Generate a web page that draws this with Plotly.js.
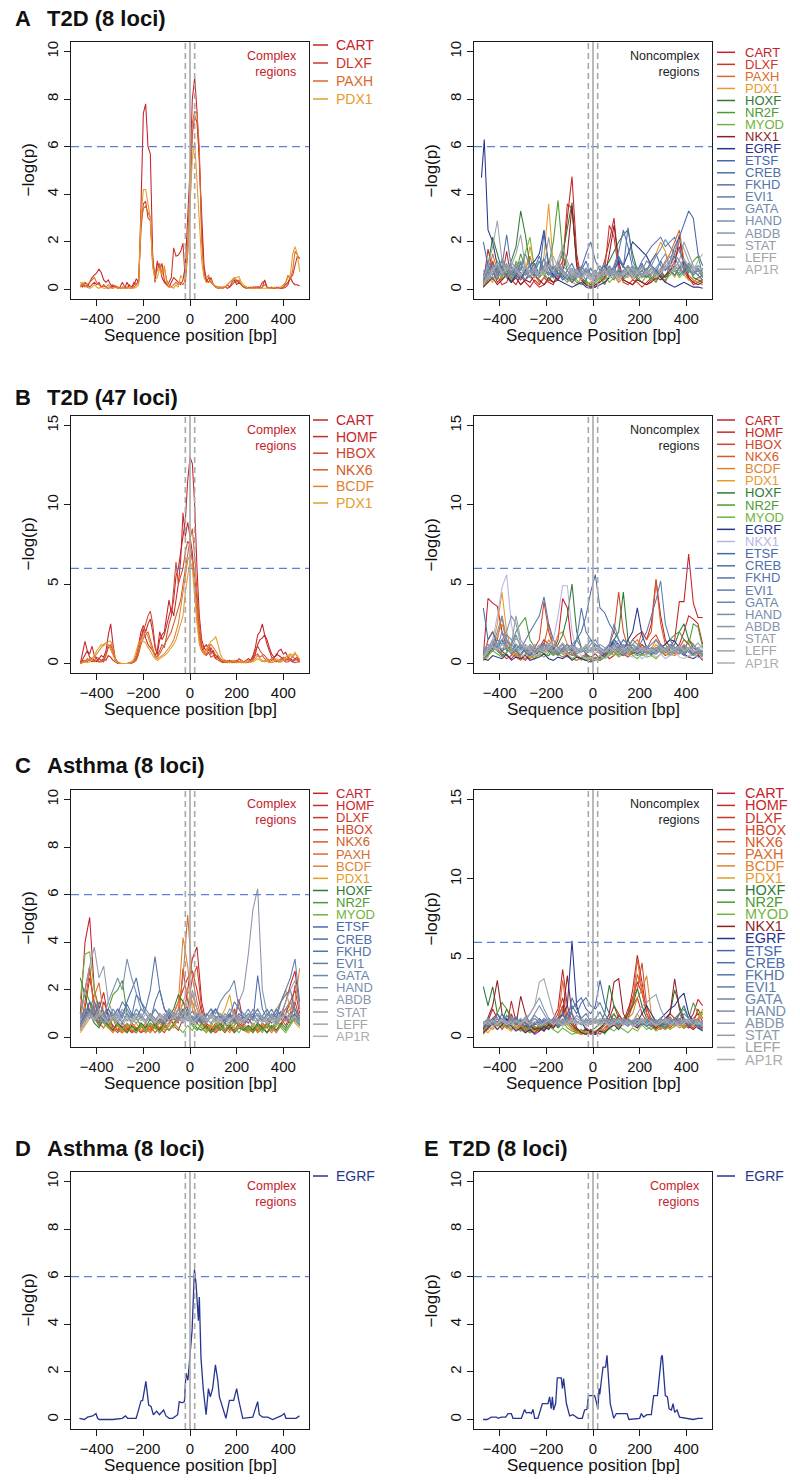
<!DOCTYPE html>
<html>
<head>
<meta charset="utf-8">
<script src="https://cdn.plot.ly/plotly-3.0.1.min.js"></script>
<style>html,body{margin:0;padding:0;background:#fff;}#chart{width:800px;height:1483px;}</style>
</head>
<body>
<div id="chart"></div>
<script>
// ---------------- x positions (bp) ----------------
const X10 = [-470,-460,-450,-440,-430,-420,-410,-400,-390,-380,
-370,-360,-350,-340,-330,-320,-310,-300,-290,-280,
-270,-260,-250,-240,-230,-220,-210,-200,-190,-180,
-170,-160,-150,-140,-130,-120,-110,-100,-90,-80,
-70,-60,-50,-40,-30,-20,-10,0,10,20,
30,40,50,60,70,80,90,100,110,120,
130,140,150,160,170,180,190,200,210,220,
230,240,250,260,270,280,290,300,310,320,
330,340,350,360,370,380,390,400,410,420,
430,440,450,460,470];
const X20 = [-470,-450,-430,-410,-390,-370,-350,-330,-310,-290,-270,-250,
-230,-210,-190,-170,-150,-130,-110,-90,-70,-50,-30,-10,
10,30,50,70,90,110,130,150,170,190,210,230,
250,270,290,310,330,350,370,390,410,430,450,470];
// EGRF in panel A (noncomplex) starts a little earlier than the grid
const X20_A2EGRF = [-478,-466,-450,-430,-410,-390,-370,-350,-330,-310,-290,-270,-250,
-230,-210,-190,-170,-150,-130,-110,-90,-70,-50,-30,-10,
10,30,50,70,90,110,130,150,170,190,210,230,
250,270,290,310,330,350,370,390,410,430,450,470];

// ---------------- Panel A, complex (T2D 8 loci) ----------------
const A1_NAMES = ['CART','DLXF','PAXH','PDX1'];
const A1_CART = [0.1,0.2,0.15,0.1,0.3,0.5,0.6,0.7,0.85,0.7,
0.4,0.3,0.4,0.2,0.1,0.15,0.1,0.05,0.1,0.05,
0.3,0.1,0.05,0.2,0.45,0.3,3.5,7.4,7.8,6.0,
5.7,1.5,0.3,1.1,1.0,0.5,0.3,0.2,0.1,0.3,
0.5,0.4,0.3,0.2,0.4,1.0,3.0,5.0,8.0,8.9,
7.5,5.5,3.0,1.0,0.4,0.3,0.5,0.2,0.1,0.1,
0.05,0.1,0.1,0.2,0.1,0.2,0.3,0.4,0.3,0.2,
0.1,0.1,0.05,0.1,0.05,0.1,0.1,0.05,0.1,0.4,
0.1,0.05,0.05,0.05,0.1,0.05,0.05,0.1,0.2,0.3,
0.5,0.3,0.2,0.2,0.15];
const A1_DLXF = [0.2,0.1,0.3,0.2,0.1,0.2,0.3,0.2,0.3,0.1,
0.2,0.1,0.05,0.1,0.2,0.1,0.05,0.1,0.3,0.1,
0.05,0.2,0.1,0.3,0.2,0.4,2.5,3.6,3.7,3.0,
2.9,1.0,0.5,1.2,0.8,1.1,0.4,0.2,0.3,0.5,
1.75,1.4,1.45,1.6,1.95,0.3,1.5,3.5,6.5,7.3,
7.0,5.6,2.5,0.8,0.3,0.5,0.3,0.2,0.1,0.05,
0.1,0.05,0.1,0.05,0.1,0.3,0.4,0.2,0.3,0.2,
0.1,0.05,0.1,0.05,0.1,0.05,0.1,0.1,0.3,0.35,
0.1,0.05,0.1,0.05,0.05,0.1,0.05,0.05,0.1,0.2,
0.5,0.6,1.0,1.4,1.3];
const A1_PAXH = [0.3,0.2,0.1,0.2,0.3,0.4,0.5,0.3,0.2,0.1,
0.15,0.1,0.2,0.1,0.05,0.1,0.1,0.05,0.05,0.1,
0.1,0.05,0.1,0.1,0.2,0.3,2.8,3.4,3.5,3.2,
3.0,1.2,0.6,0.8,1.1,0.7,0.9,0.4,0.2,0.1,
0.2,0.3,0.2,0.3,0.2,0.4,2.0,4.5,7.0,7.5,
7.4,6.0,2.0,0.6,0.5,0.6,0.3,0.2,0.15,0.1,
0.1,0.05,0.1,0.2,0.3,0.4,0.5,0.3,0.4,0.2,
0.1,0.1,0.05,0.05,0.1,0.1,0.05,0.05,0.1,0.2,
0.1,0.05,0.05,0.05,0.05,0.05,0.1,0.1,0.3,0.6,
0.4,0.8,1.6,1.45,1.3];
const A1_PDX1 = [0.1,0.3,0.2,0.1,0.05,0.1,0.2,0.1,0.05,0.1,
0.05,0.05,0.1,0.05,0.05,0.1,0.05,0.05,0.1,0.05,
0.05,0.1,0.05,0.05,0.1,0.2,3.0,4.2,4.2,3.5,
3.0,1.0,0.4,0.5,0.9,0.6,1.0,0.3,0.1,0.1,
0.05,0.2,0.1,0.6,0.4,0.5,1.5,3.5,5.5,6.2,
4.5,2.5,1.2,0.5,0.3,0.3,0.4,0.2,0.1,0.1,
0.05,0.05,0.1,0.2,0.3,0.35,0.45,0.5,0.55,0.3,
0.2,0.1,0.05,0.05,0.05,0.05,0.05,0.05,0.05,0.05,
0.05,0.05,0.05,0.1,0.05,0.05,0.1,0.2,0.3,0.5,
0.6,1.5,1.8,1.5,0.75];

// ---------------- Panel A, noncomplex ----------------
const A2_NAMES = ['CART','DLXF','PAXH','PDX1','HOXF','NR2F','MYOD','NKX1','EGRF','ETSF','CREB','FKHD','EVI1','GATA','HAND','ABDB','STAT','LEFF','AP1R'];
const A2_CART = [.2,1.7,.8,.3,.5,1.6,.4,.2,.6,.3,.1,.4, .2,.5,.3,.2,.8,1.2,3.0,4.75,1.5,.4,.2,.1, .3,.6,1.2,2.0,3.0,1.0,.4,.3,.2,.5,.3,.2, .4,.6,.8,.5,1.0,1.5,2.3,.8,.4,.3,.5,.6];
const A2_DLXF = [.1,.4,1.2,.6,.2,.3,.8,.5,.2,.4,.6,.3, .1,.2,.4,.3,.5,1.0,3.6,3.4,1.2,.5,.3,.2, .1,.4,.8,2.7,2.2,.8,.3,.2,.4,.3,.1,.3, .5,.4,.6,.3,.8,1.2,1.8,1.0,.5,.2,.3,.4];
const A2_PAXH = [.3,.6,1.5,.8,.4,.7,.3,1.0,.5,.8,1.4,.6, .3,.5,1.2,.6,.4,.7,.5,.3,.6,.4,.2,.3, .5,.7,.4,.9,.6,.3,.5,.8,.4,.6,1.0,.7, .5,.4,.8,1.2,1.5,2.0,2.5,1.2,.6,.4,.3,.2];
const A2_PDX1 = [.2,.5,.3,.9,.6,1.0,.4,.8,1.2,.7,1.8,.9, .6,1.4,3.6,1.0,.5,.8,.4,.3,.2,.5,.3,.2, .4,.6,.3,.5,.8,.4,.6,.5,.7,.9,.6,.8, 1.2,1.5,2.0,1.6,.8,.5,1.0,.6,.4,.3,.5,.4];
const A2_HOXF = [.4,1.0,2.2,1.5,.8,.6,1.2,1.8,3.3,2.3,1.0,.5, .8,.6,.4,.7,1.0,1.5,2.5,3.65,1.0,.5,.3,.2, .4,.6,.9,1.2,1.6,2.0,2.3,2.5,1.5,.8,.5,.6, .4,.8,.6,.5,.7,.9,.6,.8,1.0,.5,.4,.3];
const A2_NR2F = [.1,.5,.8,.4,1.0,.6,.3,.7,1.5,.9,.5,.8, 1.2,.6,1.0,2.0,3.75,1.5,.8,.5,.3,.2,.4,.1, .3,.5,.2,.6,.4,.8,.5,1.0,.7,.4,.6,.9, .5,.3,.7,.5,.8,.6,.9,1.0,.7,1.2,1.4,.6];
const A2_MYOD = [.2,.3,.6,1.0,.5,.8,.4,1.2,.9,1.5,2.2,.8, .5,.7,.4,.6,.9,.5,.3,.6,.4,.2,.3,.1, .2,.4,.6,.3,.5,.7,.4,.6,.8,.5,.3,.6, .4,.7,.5,.4,.6,.8,.5,.7,.9,.6,.8,.5];
const A2_NKX1 = [.1,.3,.5,.2,.4,.6,.3,.5,.2,.4,.3,.6, .4,.2,.5,.3,.4,.8,1.5,3.5,1.0,.4,.2,.1, .2,.3,.5,1.5,2.7,1.2,.4,.3,.2,.4,.3,.2, .3,.5,.4,.6,.8,1.0,2.2,1.0,.5,.3,.2,.3];
const A2_EGRF = [4.7,6.3,2.5,2.0,1.0,.8,.5,.3,.6,.4,.8,1.0,1.2, 1.5,2.5,1.0,.6,.4,.3,.2,.1,.2,.3,.1,.05, .1,.2,.3,.5,.8,1.2,1.0,1.5,2.0,1.8,1.6,1.4, 1.0,.8,.5,.3,.2,.1,.2,.3,.2,.1,.1,.05];
const A2_ETSF = [2.0,1.0,.6,.9,1.2,.8,.5,1.0,.7,.4,.8,1.1, .6,2.4,.9,.5,.7,.4,.6,.3,.5,.8,1.2,.6, .4,.8,1.0,.6,.9,1.4,1.0,.7,.5,.9,.6,.8, 1.2,1.5,1.0,.8,1.2,1.8,2.2,2.8,3.3,3.0,1.5,1.0];
const A2_CREB = [.6,1.2,.8,.5,1.0,2.3,.9,.6,1.1,.7,.5,.9, 1.4,.8,.6,1.0,.7,.5,.8,1.1,.6,.9,1.5,2.0, 1.2,.8,.6,1.0,.7,1.3,.9,2.6,1.2,.8,1.1,.6, .9,.7,1.2,.8,1.0,1.4,.9,.7,1.1,.8,.6,.4];
const A2_FKHD = [.3,.8,1.1,.6,.9,.5,1.2,.8,.4,.7,1.0,.6, .8,1.3,.7,.5,.9,.6,.4,.8,.5,.7,.4,.9, .6,.5,.8,.6,1.0,1.6,2.5,1.8,.9,.6,.8,.5, .7,.9,.6,1.0,.8,.6,.9,1.2,.8,.6,.9,.5];
const A2_EVI1 = [.5,.7,.4,.8,.6,1.0,.7,.5,.9,.6,.8,.5, .7,1.0,.6,.9,.5,.8,.6,.4,.7,.5,.9,.6, .8,.5,.7,.9,.6,.8,.5,.7,1.0,.8,1.2,1.5, 1.8,2.0,2.2,1.8,2.0,2.2,1.6,1.2,.9,.7,.8,.6];
const A2_GATA = [.8,.5,1.0,.7,1.3,.9,.6,1.1,.8,1.5,.9,.7, 1.2,.8,.6,.9,1.1,.7,.5,.8,.6,1.0,.7,.9, .5,.8,1.1,.7,.9,.6,.8,1.0,.7,.5,.8,1.2, 1.0,1.4,1.7,2.1,1.8,1.5,1.2,.9,1.1,.8,.6,.9];
const A2_HAND = [.4,.9,.6,1.2,.8,.5,1.0,.7,.9,.6,1.1,.8, .5,.9,1.3,.7,.6,1.0,.8,.5,.9,.6,.8,.5, .7,1.0,.6,.8,.5,.9,.7,.6,.9,.7,1.0,.8, .6,.9,1.2,1.5,1.0,.8,.7,1.0,.8,.6,.9,.7];
const A2_ABDB = [.6,.4,.8,1.0,.6,.9,.5,.8,1.2,.7,.5,.9, .6,.8,1.0,.7,1.2,.8,.6,.9,.5,.7,.9,.6, .8,.5,.7,.6,.9,.5,.8,.6,.7,.9,.6,.8, 1.0,.7,.9,1.1,1.4,1.0,.8,.6,.9,.7,1.0,.8];
const A2_STAT = [.3,.6,.9,.5,.8,1.1,.7,1.0,.6,.9,.5,.8, .6,.9,2.2,1.0,.8,1.8,1.2,.7,.5,.8,.6,.4, .7,.5,.9,.6,.8,.5,.7,.9,.6,.8,.5,.7, .9,.6,.8,1.0,.7,.9,1.2,2.0,1.5,1.0,.8,.6];
const A2_LEFF = [.5,1.0,1.8,2.9,1.2,.8,1.0,1.5,2.3,1.0,.7,.9, .6,.8,1.0,.7,1.3,1.8,1.0,.6,.8,.5,.7,.6, .4,.8,.6,.9,.5,.7,.6,.8,1.0,.7,.5,.8, .6,.9,.7,1.0,1.2,1.6,2.1,1.7,1.2,.9,1.0,.8];
const A2_AP1R = [.2,.5,.8,1.1,.7,.9,1.2,.8,.6,1.0,.7,.5, .8,.6,1.0,1.4,.9,.7,.5,.8,.6,.4,.7,.5, .3,.6,.8,.5,.7,.4,.6,.8,.5,.7,.9,.6, .8,.5,.7,.9,1.1,.8,1.0,1.3,1.0,.8,1.2,1.5];

// ---------------- Panel B, complex (T2D 47 loci) ----------------
const B1_NAMES = ['CART','HOMF','HBOX','NKX6','BCDF','PDX1'];
const B1_CART = [0,0.3,0.5,0.8,0.4,0.3,0.2,0.1,0.3,0.5,
0.4,0.8,1.8,2.5,1.2,0.3,0.1,0,0,0,
0,0.05,0.1,0.2,0.5,1.2,2.0,2.4,2.0,2.5,
2.8,2.0,1.0,0.6,1.5,1.8,2.0,3.0,4.0,3.2,
4.0,5.5,6.0,7.0,8.0,9.0,11.5,13.0,12.6,10.0,
6.0,3.0,1.5,1.0,1.2,0.8,1.0,0.6,0.3,0.5,
0.3,0.2,0.1,0.1,0.2,0.1,0.05,0.1,0.3,0.2,
0.1,0.2,0.3,0.2,0.5,1.0,1.8,2.0,2.5,1.8,
1.5,1.0,0.6,0.4,0.5,0.8,0.9,0.6,0.7,0.4,
0.3,0.2,0.3,0.4,0.2];
const B1_HOMF = [0,0.8,1.4,0.8,0.6,1.1,0.5,0.3,0.1,0.2,
0.3,0.2,0.5,0.4,0.2,0.1,0,0,0,0,
0,0,0.05,0.1,0.4,1.0,1.5,2.2,1.6,1.2,
1.0,0.8,0.5,0.8,2.0,1.5,1.8,2.5,3.0,3.5,
3.0,4.0,5.0,6.5,9.5,8.0,8.9,8.0,7.0,5.0,
3.0,1.5,0.8,1.0,0.8,1.2,0.7,0.8,0.5,0.4,
0.2,0.1,0.2,0.1,0.05,0.1,0.2,0.1,0.1,0.05,
0.1,0.05,0.1,0.2,0.3,0.6,1.2,1.5,1.6,1.8,
1.2,0.8,0.4,0.3,0.6,0.5,0.4,0.3,0.2,0.3,
0.2,0.1,0.2,0.3,0.1];
const B1_HBOX = [0,0.2,0.1,0.3,0.2,0.1,0.2,0.4,0.3,0.2,
0.1,0.5,1.0,1.2,0.8,0.2,0.1,0,0,0,
0,0,0.05,0.1,0.3,0.8,1.5,2.0,2.6,3.0,
3.3,2.5,1.2,0.5,0.8,1.2,1.0,1.8,2.5,3.0,
5.0,6.4,5.0,5.5,6.0,7.0,7.7,7.5,6.5,5.5,
4.0,2.0,1.0,0.6,0.5,0.7,0.4,0.5,0.3,0.2,
0.1,0.05,0.1,0.05,0.1,0.05,0.1,0.2,0.1,0.1,
0.05,0.1,0.1,0.2,0.4,0.8,1.1,0.8,0.6,0.5,
0.3,0.2,0.3,0.2,0.1,0.2,0.3,0.2,0.1,0.1,
0.2,0.1,0.05,0.1,0.1];
const B1_NKX6 = [0,0.1,0.2,0.1,0.3,0.2,0.1,0.2,0.1,0.1,
0.2,0.6,1.2,1.0,0.6,0.2,0.05,0,0,0,
0,0,0,0.1,0.2,0.6,1.2,1.6,1.8,2.0,
1.5,1.0,0.5,0.4,0.6,0.9,1.2,1.5,1.8,2.0,
2.5,3.0,3.5,4.0,5.0,6.0,7.0,7.8,8.5,6.8,
4.5,2.5,1.2,0.8,0.6,0.9,0.6,0.7,0.5,0.3,
0.2,0.1,0.1,0.2,0.1,0.05,0.1,0.05,0.1,0.2,
0.1,0.05,0.1,0.1,0.2,0.5,0.6,0.4,0.5,0.3,
0.2,0.1,0.2,0.3,0.2,0.1,0.2,0.4,0.3,0.2,
0.3,0.4,0.3,0.2,0.1];
const B1_BCDF = [0,0.05,0.1,0.2,0.3,0.2,0.4,0.6,0.8,1.0,
1.2,1.3,1.4,1.4,1.0,0.3,0.05,0,0,0,
0,0,0.1,0.2,0.5,1.0,1.5,1.8,2.0,1.7,
1.2,0.8,0.4,0.3,0.4,0.5,0.6,0.8,1.0,1.2,
1.5,2.0,2.5,3.5,4.5,5.5,6.5,6.8,6.5,5.0,
3.0,1.5,0.8,0.6,0.8,1.0,1.2,1.0,0.8,0.5,
0.3,0.2,0.1,0.05,0.1,0.2,0.1,0.05,0.1,0.2,
0.1,0.05,0.1,0.1,0.2,0.3,0.5,0.3,0.2,0.1,
0.2,0.1,0.05,0.1,0.2,0.1,0.1,0.2,0.3,0.4,
0.5,0.4,0.6,0.5,0.2];
const B1_PDX1 = [0,0.05,0.1,0.05,0.1,0.3,0.5,0.8,1.0,1.2,
1.1,1.3,1.2,0.9,0.6,0.2,0.05,0,0,0,
0,0,0.05,0.3,0.8,1.3,1.5,1.4,1.3,1.0,
0.8,0.5,0.3,0.2,0.3,0.4,0.5,0.6,0.8,1.0,
1.2,1.5,2.0,2.5,3.0,4.5,5.5,6.5,6.0,4.0,
2.5,1.2,0.8,0.6,0.9,1.2,1.4,1.5,1.7,1.2,
0.6,0.3,0.2,0.1,0.05,0.1,0.2,0.1,0.05,0.1,
0.05,0.1,0.2,0.1,0.1,0.2,0.3,0.2,0.1,0.2,
0.1,0.05,0.1,0.2,0.3,0.2,0.1,0.2,0.4,0.5,
0.6,0.5,0.7,0.4,0.3];

// ---------------- Panel B, noncomplex ----------------
const B2_NAMES = ['CART','HOMF','HBOX','NKX6','BCDF','PDX1','HOXF','NR2F','MYOD','EGRF','NKX1','ETSF','CREB','FKHD','EVI1','GATA','HAND','ABDB','STAT','LEFF','AP1R'];
const B2_CART = [.5,4.1,3.8,3.6,2.0,1.0,.8,.5,.3,.6,1.0,.8, .5,1.2,1.0,.8,1.5,4.1,3.5,1.0,.5,.3,.2,.4, .6,.3,.5,.8,1.2,.9,.6,1.0,1.5,1.8,2.0,1.5, 2.5,5.3,3.0,1.5,1.0,1.5,3.9,3.9,6.9,3.8,2.9,2.9];
const B2_HOMF = [.3,1.5,2.0,1.2,.8,.5,.3,.6,.4,.2,.5,.8, 1.0,1.5,1.2,.8,.6,1.0,1.2,.8,.4,.3,.5,.3, .2,.4,.6,.3,.5,.8,.6,.4,.7,1.0,1.2,.8, .6,1.0,.8,.5,.7,.9,1.2,2.0,3.0,2.8,2.5,1.2];
const B2_HBOX = [.4,.8,1.2,.9,.6,.3,.5,.8,.4,.3,.6,1.0, 1.5,3.9,2.0,1.0,.6,.8,.5,.3,.2,.4,.6,.3, .2,.5,.8,1.2,2.0,4.5,2.0,1.0,.6,.8,1.2,.9, 1.5,1.8,1.2,.8,.5,.7,1.0,.8,1.5,1.2,.8,.5];
const B2_NKX6 = [.2,.6,.9,1.5,3.0,1.2,.6,.4,.2,.5,.3,.6, .9,1.2,2.5,1.0,.6,.4,.6,.8,.5,.3,.4,.2, .3,.2,.4,.6,.8,1.0,.7,.5,.8,1.0,2.0,1.5, 2.0,5.2,2.5,1.2,.8,.6,1.0,1.5,1.2,.8,.6,.4];
const B2_BCDF = [.3,.5,1.0,1.8,2.5,1.5,.8,.6,.4,.3,.5,.4, .6,.8,1.5,1.0,1.8,2.0,1.2,.6,.4,.3,.2,.3, .4,.3,.5,.7,.5,1.0,.8,.6,1.2,1.5,1.0,.7, .9,1.5,1.2,.8,.6,.5,.7,1.0,.8,.6,.4,.3];
const B2_PDX1 = [.2,.4,1.2,2.5,4.5,2.0,.8,.5,.3,.6,.4,.3, .5,.6,.8,.5,.7,.9,.6,.3,.2,.3,.4,.2, .3,.5,.4,.6,.8,.6,.5,.8,1.0,.7,.5,.6, .8,1.2,.9,.6,.5,.8,.7,.5,.4,.6,.5,.3];
const B2_HOXF = [.3,.6,1.0,.8,.5,.7,1.2,.9,.6,1.0,.7,.5, .8,.6,.5,.9,1.2,1.8,3.0,5.0,2.0,1.0,.6,.4, .3,.5,.4,.8,1.5,2.0,4.5,1.5,.8,.6,.9,.7, .6,.8,1.0,.7,.9,1.2,2.0,2.5,1.5,1.0,.8,.5];
const B2_NR2F = [.4,.8,1.2,1.0,1.5,.8,1.2,2.0,2.5,2.9,1.5,1.0, .8,1.2,1.0,.7,.5,.8,1.0,.6,.4,.3,.5,.2, .3,.2,.4,.6,.8,.5,1.2,1.0,.7,.5,.6,.8, .5,.7,1.0,1.2,1.5,1.8,2.0,1.5,1.2,2.5,2.3,1.0];
const B2_MYOD = [.2,.5,.8,.6,.4,.7,.9,.6,1.0,.8,.5,.3, .6,.4,.7,.5,.8,.6,.4,.3,.5,.2,.4,.3, .2,.4,.3,.5,.7,.4,.6,.8,.5,.3,.6,.4, .5,.3,.6,.8,.5,.7,.9,1.0,.8,.6,.9,.5];
const B2_EGRF = [.3,.2,.5,.4,.3,.6,.2,.4,.3,.5,.2,.3, .4,.6,.3,.2,.4,.3,.5,.2,.4,.3,.2,.1, .2,.4,.6,1.0,1.5,1.2,.8,1.5,2.0,3.5,1.8,1.0, .8,.6,1.0,1.2,1.5,1.4,1.0,.6,.4,.3,.5,.2];
const B2_NKX1 = [.3,.8,1.5,3.0,4.8,5.6,2.5,1.0,.6,.4,.8,.5, .6,1.0,.8,1.5,3.0,4.9,4.9,2.0,.8,.5,.3,.4, .2,.5,.3,.6,1.0,1.5,.8,.5,.4,.6,.3,.5, .7,.4,.6,.3,.5,.8,.4,.3,.5,.6,.4,.3];
const B2_ETSF = [3.5,1.5,2.0,1.2,.8,1.0,.6,.9,1.2,.7,.5,.8, 1.0,1.3,.8,.6,.9,1.2,.7,.5,.8,1.0,.6,.9, 1.2,.8,.6,.9,1.3,.7,.5,.8,1.0,.6,.9,1.1, .7,.9,1.2,.8,.6,1.0,.8,.5,.9,1.2,.8,.6];
const B2_CREB = [.6,1.0,.8,1.2,.7,1.5,1.0,.8,.5,.9,1.1,.7, .9,1.2,.8,1.0,.6,.9,1.2,.8,1.5,2.0,3.0,4.5, 5.6,3.5,3.2,2.5,2.0,1.5,1.0,1.2,.8,.9,.6,.8, 1.0,.7,1.2,.9,.6,.8,1.0,.7,.9,.5,.8,.6];
const B2_FKHD = [.5,.8,1.2,.9,1.5,1.0,.7,1.2,.9,1.5,2.0,2.5, 3.0,4.2,2.5,1.5,1.0,.8,1.2,.9,1.5,3.5,2.0,1.5, 1.0,.7,.9,1.2,.8,1.0,1.5,1.2,.9,.7,1.0,.8, .6,.9,1.2,.8,1.0,.7,.9,1.1,.8,.6,1.0,.7];
const B2_EVI1 = [.8,1.2,1.0,1.5,1.2,1.8,1.5,1.0,.8,1.2,.9,.7, 1.0,.8,1.2,.9,.6,1.0,.8,1.2,.9,.7,1.0,1.5, 1.2,1.0,.8,1.2,1.5,1.0,.8,1.0,1.2,.9,1.5,2.0, 3.0,4.0,5.2,2.5,1.5,1.0,.8,1.2,.9,1.0,.7,.8];
const B2_GATA = [.6,1.0,1.4,1.0,2.0,1.5,1.2,1.8,1.0,.8,1.2,.9, .7,1.0,.8,1.2,1.0,.7,.9,1.2,1.5,1.0,.8,1.2, 1.5,1.0,.8,1.2,2.5,1.5,1.0,.8,1.2,1.0,.7,.9, 1.2,1.5,1.0,.8,1.2,1.0,.8,.6,.9,.7,.6,.8];
const B2_HAND = [1.0,.7,1.2,2.0,3.0,1.5,1.0,.8,1.2,.9,.6,.8, 1.0,.7,.9,.6,.8,1.0,.7,.5,.8,1.0,.7,.9, .8,1.2,1.0,.7,.9,1.2,.8,1.0,1.5,1.2,.9,1.1, .8,1.0,.7,.9,1.2,.8,.6,.9,.7,.5,.8,.6];
const B2_ABDB = [.7,1.0,.8,1.2,1.5,2.0,3.0,2.5,1.2,1.0,.8,1.0, .8,1.2,1.0,.7,.9,1.2,.8,1.0,.6,.8,1.0,.7, .9,.6,.8,1.0,.7,.9,1.2,.8,1.0,.7,.9,.6, .8,1.0,.7,.9,1.1,.8,1.0,.7,.9,1.2,.8,.6];
const B2_STAT = [.9,1.2,1.0,.8,1.2,1.5,1.2,3.0,1.5,1.0,.8,1.2, 1.0,.8,1.2,1.5,1.0,.8,1.2,1.0,.7,.9,1.1,.8, 1.0,.7,.9,.6,1.1,.8,.6,.9,1.2,.8,1.0,.7, .9,.6,.8,1.0,.7,.9,.6,.8,1.0,.7,.9,.8];
const B2_LEFF = [.5,1.0,1.5,1.2,.9,1.3,1.0,1.6,1.2,.9,1.1,.8, 1.2,.9,1.1,.8,1.0,1.3,.9,.7,1.0,.8,1.2,1.0, .8,1.0,.7,.9,1.2,.8,1.0,.7,.9,1.1,.8,1.0, .7,.9,1.1,.8,1.0,.7,.9,1.2,.8,1.0,1.3,.9];
const B2_AP1R = [.4,.8,1.1,.9,1.2,1.0,.7,1.0,.8,1.2,.9,.6, .9,.7,1.0,1.2,.8,.6,.9,1.1,.8,1.0,.7,.9, .6,.9,.7,1.0,.8,.6,.9,1.1,.8,.7,1.0,.8, .9,.7,1.0,.8,.6,.9,1.1,.8,1.0,.7,.9,1.2];

// ---------------- Panel C, complex (Asthma 8 loci) ----------------
const C1_NAMES = ['CART','HOMF','DLXF','HBOX','NKX6','PAXH','BCDF','PDX1','HOXF','NR2F','MYOD','ETSF','CREB','FKHD','EVI1','GATA','HAND','ABDB','STAT','LEFF','AP1R'];
const C1_CART = [1.0,4.0,5.05,2.0,1.2,1.9,.8,.5,.3,.6,.4,.2, .3,.5,.2,.4,.6,.3,.8,1.0,.5,.3,.8,2.0, 3.3,3.8,1.5,.6,.4,.3,.5,.8,1.0,.6,1.6,.5, .8,.5,.3,.6,.4,.8,1.2,.9,1.5,2.2,2.8,1.2];
const C1_HOMF = [.5,1.2,2.5,1.5,.8,1.0,.5,.3,.6,.4,.2,.5, .3,.6,.4,.2,.5,.8,.4,.6,1.0,1.5,2.0,2.5, 2.8,2.0,1.0,.5,.3,.6,.4,.2,.5,.3,.6,.4, .3,.5,.2,.4,.6,.3,.5,.8,1.0,1.5,2.0,1.0];
const C1_DLXF = [.8,2.0,3.0,1.0,.6,1.5,1.0,.4,.2,.5,.3,.6, .4,.2,.5,.3,.6,.4,.2,.5,.8,.6,2.9,1.5, 1.5,.9,.6,.4,.2,.5,.3,.6,.4,1.2,.5,.3, .5,.3,.6,.4,.2,.5,.3,.6,.9,.7,1.5,.8];
const C1_HBOX = [.3,.8,1.5,.9,.5,.7,.4,.2,.5,.3,.6,.2, .4,.2,.3,.5,.2,.4,.6,.3,.5,.8,1.5,1.2, 2.5,3.0,1.2,.5,.3,.2,.4,.6,.3,.5,.8,.4, .2,.4,.3,.5,.2,.4,.6,.8,.5,1.0,2.2,1.5];
const C1_NKX6 = [.4,1.5,2.8,1.2,.6,.4,.7,.3,.5,.2,.4,.3, .2,.5,.3,.6,.4,.2,.5,.3,.6,.9,1.2,.8, 1.8,1.2,.6,.3,.5,.2,.4,.3,.6,.9,.5,.3, .4,.2,.5,.3,.6,.4,.2,.5,.8,.6,1.0,.5];
const C1_PAXH = [.3,.6,1.2,1.8,2.3,1.0,.5,.8,.3,.2,.5,.3, .2,.4,.6,.3,.5,.2,.4,.6,.8,1.2,2.5,5.15, 2.5,1.5,.8,.4,.2,.5,.3,.6,.4,.2,.5,.3, .2,.4,.3,.6,.4,.2,.5,.8,1.2,1.5,1.0,.6];
const C1_BCDF = [.5,1.0,.8,1.2,.6,.4,.7,.3,.5,.2,.4,.6, .3,.5,.2,.4,.6,.3,.5,.8,1.0,1.5,4.2,3.0, 1.2,.6,.4,.2,.5,.3,.6,.4,.2,.5,.8,.6, .3,.5,.2,.4,.6,.3,.5,.8,1.0,1.2,1.5,2.9];
const C1_PDX1 = [.2,.5,.8,1.5,1.2,.6,.4,.2,.5,.3,.2,.4, .6,.3,.5,.2,.4,.6,.3,.5,.4,.8,1.5,2.0, 1.5,.8,.5,.3,.6,.4,.8,1.2,1.8,.8,.5,.3, .2,.4,.6,.3,.5,.8,1.2,1.5,2.0,1.2,.6,.4];
const C1_HOXF = [2.5,1.8,1.0,.6,.4,.8,.5,.3,.6,.4,.2,.5, .3,.6,.4,.8,.5,.3,.6,.9,1.2,1.8,1.5,1.0, .6,.4,.3,.5,.2,.4,.6,.3,.5,.2,.4,.3, .5,.3,.6,.4,.2,.5,.3,.6,.4,.8,1.0,.6];
const C1_NR2F = [1.0,2.0,1.5,.8,.5,.9,1.2,1.8,2.0,2.4,1.0,.6, .8,.5,.3,.6,.4,.7,.5,.3,.6,.8,1.2,.9, .5,.3,.6,.4,.2,.5,.3,.6,.4,.7,.5,.3, .4,.2,.5,.3,.6,.4,.7,.5,.3,.6,.8,.5];
const C1_MYOD = [1.6,3.5,3.6,2.0,1.0,.6,.4,.8,.5,.3,.6,.4, .2,.5,.3,.6,.4,.2,.5,.3,.6,.4,.2,.5, .3,.6,.4,.2,.5,.8,.4,.3,.6,.4,.2,.5, .3,.6,.4,.2,.5,.3,.6,.4,.2,.5,.8,.6];
const C1_ETSF = [.6,1.0,1.5,1.2,.8,1.0,.6,.9,1.2,.8,1.5,2.0, 2.5,1.5,1.0,.8,1.2,.9,.6,.8,1.0,.7,.9,1.2, .8,.6,.9,.7,1.0,1.2,.8,.6,.9,.7,1.0,.8, .6,.9,1.2,.8,.6,.9,.7,1.0,1.2,1.5,1.0,.8];
const C1_CREB = [.8,1.2,.9,1.5,1.0,.7,1.2,.9,.6,1.0,1.4,1.0, .8,1.2,1.0,.7,1.5,2.0,1.2,.8,1.0,.7,1.2,.9, 1.1,.8,.6,.9,1.2,.8,1.0,.7,.9,1.5,1.2,.8, 1.0,.7,2.6,1.2,.8,.6,.9,1.1,.8,1.0,1.2,.7];
const C1_FKHD = [.5,.9,1.2,.8,1.5,1.0,1.2,.8,1.0,1.5,1.2,.9, 1.8,1.5,1.2,2.0,3.4,2.0,1.2,1.0,.8,1.2,.9,.7, .7,1.0,.8,.6,.9,1.2,.8,.6,1.0,.7,.9,.6, .8,1.0,.7,.9,1.2,.8,1.0,1.5,1.8,2.0,1.2,.9];
const C1_EVI1 = [.4,.8,1.2,.9,.6,1.0,.7,1.2,.9,.6,1.0,.8, 1.2,.9,.7,1.0,.8,.6,.9,1.1,.8,1.0,.7,.9, .6,.9,.7,1.0,.8,1.2,.9,.7,1.0,.8,.6,.9, 1.2,.8,1.0,.7,.9,1.2,.8,1.5,2.0,2.5,3.3,1.5];
const C1_GATA = [.7,1.0,.8,1.2,.9,.6,1.0,.8,1.2,1.0,.7,.9, 1.0,.8,1.2,.9,.7,1.0,.8,1.2,1.0,.8,1.1,.9, .8,1.0,.7,.9,1.2,1.0,1.5,1.8,2.0,2.4,1.2,1.0, .8,1.2,.9,.7,1.0,.8,1.2,.9,.7,1.0,.8,.6];
const C1_HAND = [.6,1.2,1.0,1.5,1.2,.9,1.5,2.0,2.5,2.0,3.3,2.5, 1.8,1.2,1.0,.8,1.2,.9,.7,1.0,.8,1.2,.9,.7, .9,.7,1.0,.8,.6,.9,.7,1.0,.8,.6,.9,.7, 1.0,.8,.6,.9,.7,1.0,.8,1.0,1.2,.9,.7,.5];
const C1_ABDB = [.5,.8,1.0,.7,.9,.6,.8,1.0,.7,.9,1.2,.8, .6,.9,.7,1.0,.8,.6,.9,.7,1.0,.8,.6,.9, .7,1.0,.8,.6,.9,.7,1.0,.8,1.2,1.0,1.5,2.0, 3.5,5.4,6.25,2.0,1.0,.8,.6,.9,.7,1.0,.8,.6];
const C1_STAT = [.8,2.0,3.0,3.8,2.5,3.0,1.5,1.0,.8,1.2,.9,.7, 1.0,.8,.6,.9,.7,1.0,.8,1.2,.9,.7,1.0,.8, 2.0,1.2,.8,.6,.9,.7,1.0,.8,.6,.9,.7,1.0, .8,1.0,1.2,.8,.6,.9,.7,1.0,1.2,1.5,1.0,.8];
const C1_LEFF = [.4,.7,1.0,.8,1.2,.9,.6,.8,1.0,.7,.9,.6, .8,1.0,.7,.9,.6,.8,1.0,.7,.9,1.2,1.0,1.5, 1.8,1.2,.9,.7,1.0,.8,.6,.9,.7,1.0,.8,.6, .9,.7,1.0,.8,.6,.9,.7,1.0,1.5,2.0,2.4,1.2];
const C1_AP1R = [.3,.6,.9,.7,1.0,.8,.6,.9,.7,.5,.8,.6, .9,.7,1.0,.8,.6,.9,.7,.5,.8,1.0,.7,.9, .6,.8,1.0,.7,.9,.6,.8,.5,.7,.9,.6,.8, .7,.5,.8,.6,.9,.7,.5,.8,1.0,.7,.9,.6];

// ---------------- Panel C, noncomplex ----------------
const C2_NAMES = ['CART','HOMF','DLXF','HBOX','NKX6','PAXH','BCDF','PDX1','HOXF','NR2F','MYOD','NKX1','EGRF','ETSF','CREB','FKHD','EVI1','GATA','HAND','ABDB','STAT','LEFF','AP1R'];
const C2_CART = [.5,1.0,1.8,1.2,.8,.6,2.3,1.0,.5,.8,.4,.3, .6,.4,.8,1.2,1.8,4.3,2.0,1.0,.5,.3,.6,.4, .2,.5,.8,1.2,2.0,1.5,1.0,1.5,3.0,5.2,3.5,1.5, 1.0,.8,.6,1.0,1.5,1.2,.8,.6,1.0,1.5,2.4,2.0];
const C2_HOMF = [.3,.8,1.2,1.5,1.0,.6,.9,1.2,.7,.5,.3,.6, .4,.8,.6,1.0,1.5,2.5,1.2,.8,.5,.3,.2,.5, .3,.6,.4,.9,1.2,.8,1.0,1.8,2.5,3.5,2.8,1.5, .8,1.0,.7,.5,.8,1.2,1.0,.6,.8,1.2,1.5,1.0];
const C2_DLXF = [.6,1.2,.8,1.0,.5,.9,1.5,.8,.6,1.0,.4,.3, .5,.8,1.0,.6,1.2,2.0,1.0,.6,.4,.2,.5,.3, .4,.2,.6,.9,1.5,1.0,.8,1.2,2.0,2.5,1.5,1.0, .7,.5,.8,1.0,.6,.9,1.2,.8,.6,.9,1.8,1.2];
const C2_HBOX = [.4,.8,1.2,.9,.6,.8,1.2,.6,.4,.7,.5,.3, .6,1.0,.7,.9,1.2,1.5,1.0,.6,.3,.2,.4,.2, .3,.5,.8,1.2,.9,1.4,1.0,1.5,2.5,3.0,4.7,2.0, 1.0,.6,.8,.5,.9,1.2,.8,.6,.9,1.0,1.2,.8];
const C2_NKX6 = [.2,.6,1.0,.8,1.2,.7,.5,.9,.6,.4,.7,.5, .8,.6,1.0,.7,1.2,2.0,1.5,.8,.4,.3,.5,.2, .4,.6,.3,.8,1.0,.7,1.2,1.5,2.0,4.0,3.0,1.8, 1.2,.8,.6,.9,.7,1.0,1.5,1.0,.8,.6,1.0,.7];
const C2_PAXH = [.3,.5,.9,.7,1.1,.6,.8,.5,.7,.4,.6,.9, .7,.5,.9,.6,1.0,3.6,1.5,.8,.4,.2,.4,.3, .2,.4,.6,.8,1.0,1.2,.9,1.4,2.2,4.9,3.0,1.5, 1.0,.7,.5,.8,1.0,.7,.9,.6,.8,1.0,.7,.5];
const C2_BCDF = [.4,.7,.5,.9,.6,1.0,.7,.5,.8,.6,.4,.7, .5,.8,.6,.9,1.2,1.8,1.0,.6,.3,.2,.3,.4, .3,.5,.4,.7,.9,.6,1.0,1.2,1.5,2.5,3.0,3.9, 1.5,.8,.6,.9,.7,1.2,.8,.6,.9,.7,1.0,1.5];
const C2_PDX1 = [.5,.3,.7,.5,.9,.6,.4,.8,.5,.3,.6,.4, .7,.5,.8,.6,.9,1.2,.8,.5,.3,.2,.4,.3, .2,.4,.6,.5,.8,.6,.9,1.2,.8,1.5,1.0,.7, .9,.6,.8,.5,.7,.9,.6,.8,1.0,.7,1.2,1.8];
const C2_HOXF = [3.2,2.0,3.2,1.5,1.0,1.8,1.2,.8,1.0,.6,.9,.5, .7,.5,.8,1.0,.6,.9,1.2,.8,.5,.3,.5,.4, .6,.9,1.5,3.3,2.0,1.2,.8,1.5,2.0,3.1,2.0,1.2, .8,1.0,.7,1.2,1.5,3.0,2.0,1.2,.8,1.0,.6,.5];
const C2_NR2F = [.8,1.2,.9,1.5,2.2,1.8,1.2,.8,1.0,.6,.4,.7, .5,.8,.6,.9,.7,1.0,.6,.4,.3,.5,.2,.4, .3,.5,.8,1.2,1.5,.9,1.2,1.0,.8,1.2,1.0,.7, .5,.8,1.0,.7,.9,1.2,1.5,1.8,1.2,2.2,1.5,1.6];
const C2_MYOD = [.4,.7,1.0,.8,.6,.9,.5,.7,.4,.6,.3,.5, .6,.4,.7,.5,.3,.6,.4,.2,.3,.5,.2,.4, .3,.5,.2,.6,.4,.7,.5,.3,.6,.4,.8,.5, .7,.4,.6,.8,.5,.7,.9,.6,.8,1.0,1.2,1.6];
const C2_NKX1 = [.5,1.2,2.0,3.6,1.5,1.0,1.2,.8,2.6,1.5,.8,.5, .6,.4,.8,.6,1.0,1.5,3.9,1.5,.6,.3,.2,.4, .3,.6,.9,1.5,3.5,3.7,1.5,1.0,.8,.6,.9,1.2, .8,.6,.9,1.2,1.5,3.7,1.8,1.0,.7,.5,.8,.6];
const C2_EGRF = [.3,.6,.9,.5,.8,1.2,.7,.4,.6,.3,.5,.2, .4,.7,.5,.9,1.2,1.5,2.0,6.1,2.0,1.0,.5,.3, .2,.4,.3,.6,.8,.5,.9,1.2,.8,1.0,1.5,2.0, 1.5,1.0,1.2,1.5,1.8,2.0,2.5,2.8,1.5,1.0,.6,.4];
const C2_ETSF = [1.0,.7,1.2,.9,1.5,1.0,.8,1.2,.9,.7,1.0,.8, 1.2,.9,1.0,.8,1.2,1.5,1.0,1.8,2.2,2.5,1.8,1.5, 2.0,3.6,2.2,1.5,1.0,.8,1.2,.9,1.0,.7,.9,1.2, .8,1.0,.7,.9,1.2,.8,1.5,2.0,1.2,.8,1.0,.7];
const C2_CREB = [.6,.9,1.1,.8,1.2,.7,1.0,.8,1.1,.9,.6,.8, 1.0,.8,1.2,.9,.7,1.0,1.5,2.0,1.5,2.2,2.5,2.0, 1.8,2.2,1.5,1.0,.8,1.2,.9,.7,1.0,.8,1.1,.9, .7,1.0,.8,.6,.9,1.1,.8,1.0,.7,.9,.6,.8];
const C2_FKHD = [.8,1.2,.9,1.5,1.1,.8,1.0,1.3,.9,.7,1.0,1.2, .9,1.2,1.0,.8,1.1,1.4,1.0,2.5,1.8,1.2,1.5,1.0, 1.2,1.6,1.0,.8,1.1,.9,1.2,1.0,.8,1.1,.9,.7, .9,1.1,.8,1.0,1.3,.9,1.1,1.5,1.2,.9,.7,.8];
const C2_EVI1 = [.7,1.0,.8,1.2,.9,1.4,1.0,.8,1.1,.9,.7,1.0, .8,1.1,.9,1.2,1.0,.8,1.2,1.5,1.0,.8,1.1,.9, 1.0,.8,1.2,.9,1.1,.8,1.0,1.2,.9,1.1,.8,1.0, 1.2,.9,1.1,.8,1.0,1.2,.9,1.1,.8,1.0,.7,.9];
const C2_GATA = [.9,1.2,1.0,.8,1.1,.9,1.3,1.0,.8,1.2,1.0,1.4, 1.1,.9,1.2,1.0,.8,1.1,.9,1.2,1.0,.8,1.2,1.0, .9,1.1,.8,1.0,1.2,.9,1.1,.8,1.0,1.2,.9,1.1, .8,1.0,1.2,.9,1.1,.8,1.0,1.2,.9,1.1,.8,.9];
const C2_HAND = [1.0,.8,1.1,.9,1.2,1.0,.8,1.1,.9,1.3,1.0,1.5, 2.0,1.5,1.0,.8,1.1,.9,1.2,1.0,1.4,1.1,.9,1.2, 1.0,.8,1.1,.9,1.2,1.0,.8,1.1,.9,1.2,1.0,.8, 1.1,.9,1.2,1.0,.8,1.1,.9,1.2,1.0,.8,1.1,.9];
const C2_ABDB = [.8,1.1,.9,1.2,1.0,.8,1.1,.9,1.2,1.0,1.5,2.0, 2.5,1.8,1.2,1.0,.8,1.1,.9,1.2,1.0,.8,1.1,.9, 1.2,1.0,.8,1.1,.9,1.2,1.0,.8,1.1,.9,1.2,1.0, .8,1.1,.9,1.2,1.0,.8,1.1,.9,1.2,1.0,.8,1.1];
const C2_STAT = [.9,1.2,1.0,.8,1.1,.9,1.2,1.0,.8,1.1,.9,1.2, 1.0,.8,1.1,.9,1.2,1.0,.8,1.1,.9,1.2,1.0,.8, 1.1,.9,1.2,1.0,.8,1.1,.9,1.2,1.0,1.5,2.0,2.2, 2.5,2.7,1.8,1.2,1.0,.8,1.1,.9,1.2,1.0,.8,1.0];
const C2_LEFF = [1.0,.8,1.1,.9,1.2,1.0,.8,1.1,.9,1.2,1.5,2.0, 3.5,3.7,2.5,1.5,1.0,.8,1.1,.9,1.2,1.0,.8,1.1, .9,1.2,1.0,.8,1.1,.9,1.2,1.0,.8,1.1,.9,1.2, 1.0,.8,1.1,.9,1.2,1.0,.8,1.1,.9,1.2,1.0,.8];
const C2_AP1R = [.8,1.0,.7,.9,1.1,.8,1.0,.7,.9,1.1,.8,1.0, .7,.9,1.1,.8,1.0,.7,.9,1.1,.8,1.0,.7,.9, 1.1,.8,1.0,.7,.9,1.1,.8,1.0,.7,.9,1.1,.8, 1.0,.7,.9,1.1,.8,1.0,.7,.9,1.1,.8,1.0,.7];

// ---------------- Panels D and E (EGRF only) ----------------
const D_POS = [-474,-453,-439,-417,-403,-396,-389,-331,-290,-277,-267,-231,-224,-210,-203,-189,-177,-167,-157,-143,-131,-113,-103,-89,-74,-53,-46,-34,-24,-17,-9,-3,9,19,26,36,40,47,57,69,79,87,97,109,119,126,137,154,169,187,200,209,226,269,290,297,311,333,354,390,404,411,454,469];
const D_EGRF = [0.05,0,0.1,0.15,0.25,0.05,0,0,0.05,0.15,0.05,0.05,0.28,0.78,0.8,1.6,0.6,0.55,0.2,0.35,0.2,0.4,0.15,0.05,0.05,0.2,0.75,0.7,0.75,1.95,1.65,2.35,3.75,6.3,5.7,4.15,5.15,2.6,1.25,0.2,1.3,0.95,1.3,2.3,1.65,0.95,0.55,0.05,0.8,0.8,1.3,0.8,0.05,0.1,0.75,0.2,0.1,0.1,0,0.15,0.25,0.05,0.05,0.15];
const E_POS = [-471,-454,-436,-414,-407,-393,-374,-364,-350,-343,-307,-293,-286,-271,-264,-257,-250,-236,-217,-193,-186,-179,-174,-169,-160,-153,-136,-131,-126,-114,-100,-86,-64,-46,-36,-26,-19,7,14,21,26,29,36,43,54,60,67,74,89,100,146,154,200,207,217,231,250,260,276,283,293,297,304,310,319,326,336,343,350,360,371,400,429,450,471];
const E_EGRF = [0,0,0.1,0.1,0.05,0.1,0.1,0.25,0.25,0.05,0.05,0.42,0.28,0.3,0.25,0.42,0.05,0.05,0.67,0.67,0.95,0.45,0.95,0.4,0.67,1.75,1.75,1.3,1.72,0.67,0.15,0.2,0.05,0.05,0.4,0.42,1.0,1.0,0.75,0.42,1.3,1.05,1.65,2.2,2.2,2.7,1.65,0.67,0.05,0.25,0.25,0,0.05,0.25,0.1,0.2,0.2,1.0,1.0,1.72,2.63,2.7,1.9,1.0,0.95,0.45,0.4,0.67,0.3,0.4,0.1,0.05,0,0.05,0.05];

// ---------------- styles ----------------
const COLORS = {CART:'#c4212a', HOMF:'#c9282a', DLXF:'#cd3427', HBOX:'#cf452c', NKX6:'#d55a27', PAXH:'#d96a2b', BCDF:'#df8230', PDX1:'#e69b2a',
  HOXF:'#2e7a34', NR2F:'#4b9b30', MYOD:'#72b43c', NKX1:'#8e1e25', EGRF:'#27348f', ETSF:'#4469ad', CREB:'#4f70aa', FKHD:'#5775a8',
  EVI1:'#607daa', GATA:'#6c86ac', HAND:'#798fae', ABDB:'#8795ad', STAT:'#939bab', LEFF:'#a0a3a8', AP1R:'#adadad'};
const FONT = 'Liberation Sans, Arial, Helvetica, sans-serif';

const W = 800, H = 1483;
const px = v => v / W;
const py = v => 1 - v / H;

const COLS = [
  {x0:71, x1:309, l0:313, l1:328, lt:335},
  {x0:474, x1:712, l0:717, l1:735, lt:744}
];
const ROWS = [{y0:42,y1:299},{y0:416,y1:673},{y0:790,y1:1047},{y0:1172,y1:1429}];

const DATAMAP = {
  A2_: {CART:A2_CART,DLXF:A2_DLXF,PAXH:A2_PAXH,PDX1:A2_PDX1,HOXF:A2_HOXF,NR2F:A2_NR2F,MYOD:A2_MYOD,NKX1:A2_NKX1,EGRF:A2_EGRF,ETSF:A2_ETSF,CREB:A2_CREB,FKHD:A2_FKHD,EVI1:A2_EVI1,GATA:A2_GATA,HAND:A2_HAND,ABDB:A2_ABDB,STAT:A2_STAT,LEFF:A2_LEFF,AP1R:A2_AP1R},
  B2_: {CART:B2_CART,HOMF:B2_HOMF,HBOX:B2_HBOX,NKX6:B2_NKX6,BCDF:B2_BCDF,PDX1:B2_PDX1,HOXF:B2_HOXF,NR2F:B2_NR2F,MYOD:B2_MYOD,EGRF:B2_EGRF,NKX1:B2_NKX1,ETSF:B2_ETSF,CREB:B2_CREB,FKHD:B2_FKHD,EVI1:B2_EVI1,GATA:B2_GATA,HAND:B2_HAND,ABDB:B2_ABDB,STAT:B2_STAT,LEFF:B2_LEFF,AP1R:B2_AP1R},
  C1_: {CART:C1_CART,HOMF:C1_HOMF,DLXF:C1_DLXF,HBOX:C1_HBOX,NKX6:C1_NKX6,PAXH:C1_PAXH,BCDF:C1_BCDF,PDX1:C1_PDX1,HOXF:C1_HOXF,NR2F:C1_NR2F,MYOD:C1_MYOD,ETSF:C1_ETSF,CREB:C1_CREB,FKHD:C1_FKHD,EVI1:C1_EVI1,GATA:C1_GATA,HAND:C1_HAND,ABDB:C1_ABDB,STAT:C1_STAT,LEFF:C1_LEFF,AP1R:C1_AP1R},
  C2_: {CART:C2_CART,HOMF:C2_HOMF,DLXF:C2_DLXF,HBOX:C2_HBOX,NKX6:C2_NKX6,PAXH:C2_PAXH,BCDF:C2_BCDF,PDX1:C2_PDX1,HOXF:C2_HOXF,NR2F:C2_NR2F,MYOD:C2_MYOD,NKX1:C2_NKX1,EGRF:C2_EGRF,ETSF:C2_ETSF,CREB:C2_CREB,FKHD:C2_FKHD,EVI1:C2_EVI1,GATA:C2_GATA,HAND:C2_HAND,ABDB:C2_ABDB,STAT:C2_STAT,LEFF:C2_LEFF,AP1R:C2_AP1R}
};

const PANELS = [
  {col:0,row:0,ymax:10,x:X10,names:A1_NAMES,data:{CART:A1_CART,DLXF:A1_DLXF,PAXH:A1_PAXH,PDX1:A1_PDX1},note:'Complex<br>regions',noteColor:'#c4212a',xlab:'Sequence position [bp]',letter:'A',title:'T2D (8 loci)',leg:{y0:45,dy:18,fs:14}},
  {col:1,row:0,ymax:10,x:X20,xOverride:{EGRF:X20_A2EGRF},names:A2_NAMES,prefix:'A2_',note:'Noncomplex<br>regions',noteColor:'#222',xlab:'Sequence Position [bp]',leg:{y0:52.3,dy:12.05,fs:13}},
  {col:0,row:1,ymax:15,x:X10,names:B1_NAMES,data:{CART:B1_CART,HOMF:B1_HOMF,HBOX:B1_HBOX,NKX6:B1_NKX6,BCDF:B1_BCDF,PDX1:B1_PDX1},note:'Complex<br>regions',noteColor:'#c4212a',xlab:'Sequence position [bp]',letter:'B',title:'T2D (47 loci)',leg:{y0:420,dy:16.6,fs:14}},
  {col:1,row:1,ymax:15,x:X20,names:B2_NAMES,prefix:'B2_',note:'Noncomplex<br>regions',noteColor:'#222',xlab:'Sequence position [bp]',leg:{y0:420,dy:12.15,fs:13},override:{NKX1:'#b8b4e2'}},
  {col:0,row:2,ymax:10,x:X20,names:C1_NAMES,prefix:'C1_',note:'Complex<br>regions',noteColor:'#c4212a',xlab:'Sequence position [bp]',letter:'C',title:'Asthma (8 loci)',leg:{y0:793.3,dy:12.15,fs:13}},
  {col:1,row:2,ymax:15,x:X20,names:C2_NAMES,prefix:'C2_',note:'Noncomplex<br>regions',noteColor:'#222',xlab:'Sequence Position [bp]',leg:{y0:793.3,dy:12.1,fs:14.5}},
  {col:0,row:3,ymax:10,x:D_POS,names:['EGRF'],data:{EGRF:D_EGRF},note:'Complex<br>regions',noteColor:'#c4212a',xlab:'Sequence position [bp]',letter:'D',title:'Asthma (8 loci)',leg:{y0:1176,dy:12,fs:14}},
  {col:1,row:3,ymax:10,x:E_POS,names:['EGRF'],data:{EGRF:E_EGRF},note:'Complex<br>regions',noteColor:'#c4212a',xlab:'Sequence position [bp]',letter:'E',title:'T2D (8 loci)',leg:{y0:1176,dy:12,fs:14}}
];

const traces = [];
const layout = {
  width: W, height: H, margin:{l:0,r:0,t:0,b:0}, paper_bgcolor:'#fff', plot_bgcolor:'#fff',
  showlegend:false, hovermode:false, font:{family:FONT, color:'#111'},
  shapes:[], annotations:[]
};

PANELS.forEach((p, i) => {
  const k = i + 1;
  const xs = k === 1 ? '' : String(k);
  const xid = 'x' + xs, yid = 'y' + xs;
  const c = COLS[p.col], r = ROWS[p.row];
  const data = p.data || DATAMAP[p.prefix];
  const colorOf = n => (p.override && p.override[n]) || COLORS[n];
  const single = p.names.length === 1;

  layout['xaxis' + xs] = {
    domain:[px(c.x0), px(c.x1)], anchor:yid, range:[-510,510], tickvals:[-400,-200,0,200,400],
    showline:true, mirror:true, linecolor:'#1a1a1a', linewidth:1.2, ticks:'outside', ticklen:6, tickwidth:1, tickcolor:'#1a1a1a',
    showgrid:false, zeroline:false, tickfont:{size:15, family:FONT, color:'#111'}, fixedrange:true
  };
  layout['yaxis' + xs] = {
    domain:[py(r.y1), py(r.y0)], anchor:xid, range: p.ymax === 10 ? [-0.4,10.4] : [-0.6,15.6],
    tickvals: p.ymax === 10 ? [0,2,4,6,8,10] : [0,5,10,15], tickangle:-90,
    showline:true, mirror:true, linecolor:'#1a1a1a', linewidth:1.2, ticks:'outside', ticklen:6, tickwidth:1, tickcolor:'#1a1a1a',
    showgrid:false, zeroline:false, tickfont:{size:15, family:FONT, color:'#111'}, fixedrange:true
  };

  p.names.forEach(n => {
    const xv = (p.xOverride && p.xOverride[n]) || p.x;
    traces.push({type:'scatter', mode:'lines', x:xv, y:data[n], xaxis:xid, yaxis:yid, name:n,
      line:{color:colorOf(n), width: single ? 1.3 : 1.05}, hoverinfo:'skip'});
  });

  // reference lines
  const xd = xid + ' domain', yd = yid + ' domain';
  layout.shapes.push({type:'line', xref:xd, x0:0, x1:1, yref:yid, y0:6, y1:6, layer:'above', line:{color:'#5b7fd6', width:1.3, dash:'8px,5px'}});
  layout.shapes.push({type:'line', xref:xid, x0:0, x1:0, yref:yd, y0:0, y1:1, layer:'above', line:{color:'#a9a9a9', width:1.6}});
  [-20, 20].forEach(v => layout.shapes.push({type:'line', xref:xid, x0:v, x1:v, yref:yd, y0:0, y1:1, layer:'above', line:{color:'#a9a9a9', width:1.6, dash:'6px,4px'}}));

  // region note
  layout.annotations.push({xref:'paper', yref:'paper', x:px(c.x1 - 10), y:py(r.y0 + 5), xanchor:'right', yanchor:'top', align:'right',
    text:p.note, showarrow:false, font:{size:12.5, color:p.noteColor, family:FONT}});
  // axis titles
  layout.annotations.push({xref:'paper', yref:'paper', x:px((c.x0 + c.x1) / 2), y:py(r.y1 + 36), xanchor:'center', yanchor:'middle',
    text:p.xlab, showarrow:false, font:{size:17, color:'#111', family:FONT}});
  layout.annotations.push({xref:'paper', yref:'paper', x:px(c.x0 - 43), y:py((r.y0 + r.y1) / 2), xanchor:'center', yanchor:'middle',
    text:'\u2212log(p)', textangle:-90, showarrow:false, font:{size:17, color:'#111', family:FONT}});
  // panel title
  if (p.letter) {
    const lx = p.col === 0 ? 13 : 422, tx = p.col === 0 ? 45 : 447;
    const ty = [18, 397, 765, 1148][p.row];
    layout.annotations.push({xref:'paper', yref:'paper', x:px(lx), y:py(ty), xanchor:'left', yanchor:'middle', text:'<b>' + p.letter + '</b>', showarrow:false, font:{size:22, color:'#111', family:FONT}});
    layout.annotations.push({xref:'paper', yref:'paper', x:px(tx), y:py(ty), xanchor:'left', yanchor:'middle', text:'<b>' + p.title + '</b>', showarrow:false, font:{size:22, color:'#111', family:FONT}});
  }
  // legend (outside the box, on the right)
  p.names.forEach((n, j) => {
    const yy = p.leg.y0 + j * p.leg.dy;
    const col = colorOf(n);
    layout.shapes.push({type:'line', xref:'paper', yref:'paper', x0:px(c.l0), x1:px(c.l1), y0:py(yy), y1:py(yy), line:{color:col, width:1.5}});
    layout.annotations.push({xref:'paper', yref:'paper', x:px(c.lt), y:py(yy), xanchor:'left', yanchor:'middle', text:n, showarrow:false,
      borderpad:0, font:{size:p.leg.fs, color:col, family:FONT}});
  });
});

Plotly.newPlot('chart', traces, layout, {staticPlot:true, displayModeBar:false});
</script>
</body>
</html>
